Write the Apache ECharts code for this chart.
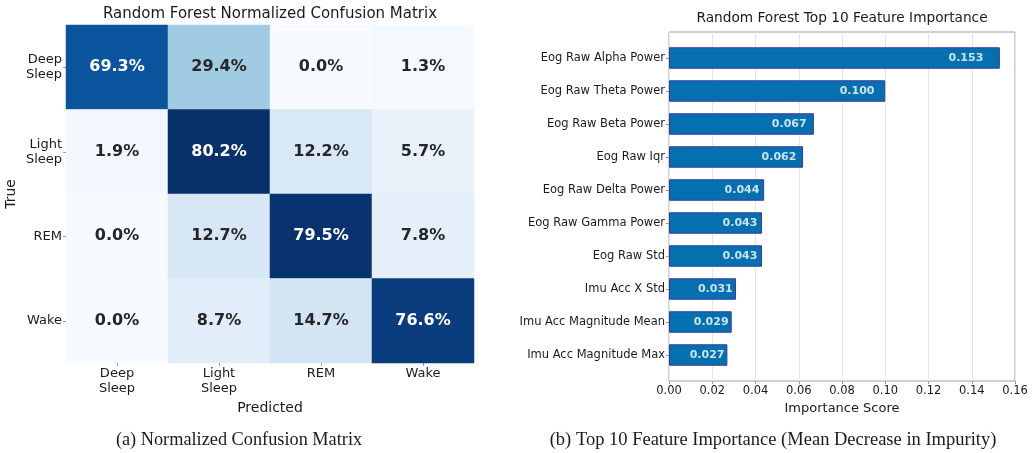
<!DOCTYPE html>
<html>
<head>
<meta charset="utf-8">
<script src="https://cdn.jsdelivr.net/npm/echarts@6/dist/echarts.min.js"></script>
<style>html,body{margin:0;padding:0;background:#fff}#c{width:1035px;height:453px}</style>
</head>
<body>
<div id="c"></div>
<script>
// ---- Confusion matrix data ----
const cmClasses = ['Deep\nSleep', 'Light\nSleep', 'REM', 'Wake'];
const cmRowDeep  = [69.3, 29.4, 0.0, 1.3];
const cmRowLight = [1.9, 80.2, 12.2, 5.7];
const cmRowREM   = [0.0, 12.7, 79.5, 7.8];
const cmRowWake  = [0.0, 8.7, 14.7, 76.6];
const cmRows = [cmRowDeep, cmRowLight, cmRowREM, cmRowWake];

// ---- Feature importance data ----
const featNames = ['Eog Raw Alpha Power','Eog Raw Theta Power','Eog Raw Beta Power','Eog Raw Iqr',
  'Eog Raw Delta Power','Eog Raw Gamma Power','Eog Raw Std','Imu Acc X Std',
  'Imu Acc Magnitude Mean','Imu Acc Magnitude Max'];
const featValues = [0.153, 0.100, 0.067, 0.062, 0.044, 0.043, 0.043, 0.031, 0.029, 0.027];
const xTicks = [0, 0.02, 0.04, 0.06, 0.08, 0.10, 0.12, 0.14, 0.16];

const blues = ['#f7fbff','#deebf7','#c6dbef','#9ecae1','#6baed6','#4292c6','#2171b5','#08519c','#08306b'];
const cmMax = Math.max(...cmRows.flat());

const heatData = [];
cmRows.forEach((row, r) => row.forEach((v, c) => {
  heatData.push({value: [c, r, v], label: {color: v / cmMax > 0.6 ? '#ffffff' : '#262626'}});
}));

const FONT = 'DejaVu Sans';
const chart = echarts.init(document.getElementById('c'), null, {renderer: 'canvas'});
chart.setOption({
  animation: false,
  textStyle: {fontFamily: FONT},
  title: [
    {text: 'Random Forest Normalized Confusion Matrix', left: 265, top: 2, textAlign: 'center',
     textStyle: {fontFamily: FONT, fontSize: 15, fontWeight: 'normal', color: '#1a1a1a'}},
    {text: 'Random Forest Top 10 Feature Importance', left: 837, top: 6, textAlign: 'center',
     textStyle: {fontFamily: FONT, fontSize: 13.7, fontWeight: 'normal', color: '#1a1a1a'}},
    {text: '(a) Normalized Confusion Matrix', left: 234, top: 426, textAlign: 'center',
     textStyle: {fontFamily: 'Liberation Serif', fontSize: 18.3, fontWeight: 'normal', color: '#1a1a1a'}},
    {text: '(b) Top 10 Feature Importance (Mean Decrease in Impurity)', left: 768, top: 426, textAlign: 'center',
     textStyle: {fontFamily: 'Liberation Serif', fontSize: 18.5, fontWeight: 'normal', color: '#1a1a1a'}}
  ],
  grid: [
    {left: 66, top: 25, width: 408, height: 338},
    {left: 669, top: 32, width: 346, height: 349, show: true, borderColor: '#a0a0a0', borderWidth: 1, backgroundColor: 'transparent'},
    {left: 669, top: 41.5, width: 346, height: 330}
  ],
  visualMap: {show: false, min: 0, max: cmMax, dimension: 2, seriesIndex: 0, inRange: {color: blues}},
  xAxis: [
    {gridIndex: 0, type: 'category', data: cmClasses, name: 'Predicted', nameLocation: 'middle', nameGap: 37,
     nameTextStyle: {fontSize: 14, color: '#1a1a1a'},
     axisLine: {show: false}, axisTick: {show: true, alignWithLabel: true, length: 3, lineStyle: {color: '#999'}},
     axisLabel: {fontSize: 13, color: '#1a1a1a', margin: 3, lineHeight: 15}, splitLine: {show: false}},
    {gridIndex: 1, type: 'value', min: 0, max: 0.16, interval: 0.02, name: 'Importance Score',
     nameLocation: 'middle', nameGap: 21, nameTextStyle: {fontSize: 13, color: '#1a1a1a'},
     axisLine: {show: false}, axisTick: {show: true, length: 3, lineStyle: {color: '#999'}},
     axisLabel: {fontSize: 11.5, color: '#1a1a1a', margin: 4, formatter: v => v.toFixed(2)},
     splitLine: {show: true, lineStyle: {color: '#e6e6e6', width: 1}}},
    {gridIndex: 2, type: 'value', min: 0, max: 0.16, show: false}
  ],
  yAxis: [
    {gridIndex: 0, type: 'category', data: cmClasses, inverse: true, name: 'True', nameLocation: 'middle',
     nameGap: 48, nameRotate: 90, nameTextStyle: {fontSize: 14, color: '#1a1a1a'},
     axisLine: {show: false}, axisTick: {show: true, alignWithLabel: true, length: 3, lineStyle: {color: '#999'}},
     axisLabel: {fontSize: 13, color: '#1a1a1a', margin: 4, lineHeight: 15, align: 'right'}, splitLine: {show: false}},
    {gridIndex: 1, type: 'value', min: 0, max: 1, show: false},
    {gridIndex: 2, type: 'category', data: featNames, inverse: true,
     axisLine: {show: false}, axisTick: {show: true, alignWithLabel: true, length: 3, lineStyle: {color: '#999'}},
     axisLabel: {fontSize: 11.5, color: '#1a1a1a', margin: 4}}
  ],
  series: [
    {type: 'heatmap', xAxisIndex: 0, yAxisIndex: 0, data: heatData,
     label: {show: true, fontSize: 16, fontWeight: 'bold', fontFamily: FONT, formatter: p => p.value[2].toFixed(1) + '%'},
     itemStyle: {borderWidth: 0}},
    {type: 'bar', xAxisIndex: 2, yAxisIndex: 2, data: featValues, barWidth: '65%',
     itemStyle: {color: '#0570b0', borderColor: '#3a3a9c', borderWidth: 1}},
    {type: 'scatter', xAxisIndex: 2, yAxisIndex: 2, symbolSize: 0,
     data: featValues.map((v, i) => [v * 0.95, featNames[i], v]),
     label: {show: true, position: 'left', distance: 0, color: '#ffffff', fontWeight: 'bold', fontSize: 11,
             fontFamily: FONT, formatter: p => p.value[2].toFixed(3)}}
  ]
});
</script>
</body>
</html>
